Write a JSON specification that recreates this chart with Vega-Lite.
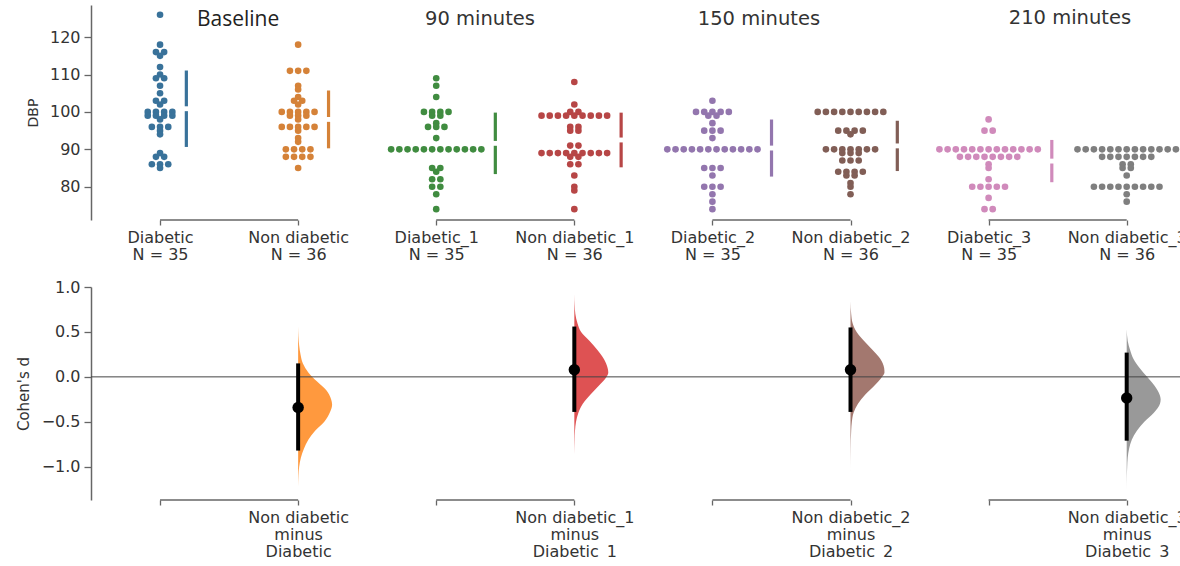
{
  "$schema": "https://vega.github.io/schema/vega-lite/v6.json",
  "padding": {"left": 16, "top": 5, "right": 0, "bottom": 0},
  "background": "white",
  "config": {"font": "DejaVu Sans", "view": {"stroke": null}, "axis": {"grid": false}},
  "bounds": "flush",
  "spacing": 67,
  "resolve": {"scale": {"color": "independent"}},
  "datasets": {
    "dbp": [
      {"group":"Diabetic","dbp":126},{"group":"Diabetic","dbp":118},{"group":"Diabetic","dbp":116},{"group":"Diabetic","dbp":116},{"group":"Diabetic","dbp":115},{"group":"Diabetic","dbp":112},{"group":"Diabetic","dbp":110},{"group":"Diabetic","dbp":109},{"group":"Diabetic","dbp":109},{"group":"Diabetic","dbp":107},{"group":"Diabetic","dbp":105},{"group":"Diabetic","dbp":103},{"group":"Diabetic","dbp":103},{"group":"Diabetic","dbp":102},{"group":"Diabetic","dbp":100},{"group":"Diabetic","dbp":100},{"group":"Diabetic","dbp":100},{"group":"Diabetic","dbp":100},{"group":"Diabetic","dbp":99},{"group":"Diabetic","dbp":99},{"group":"Diabetic","dbp":99},{"group":"Diabetic","dbp":99},{"group":"Diabetic","dbp":98},{"group":"Diabetic","dbp":96},{"group":"Diabetic","dbp":96},{"group":"Diabetic","dbp":96},{"group":"Diabetic","dbp":95},{"group":"Diabetic","dbp":94},{"group":"Diabetic","dbp":89},{"group":"Diabetic","dbp":88},{"group":"Diabetic","dbp":88},{"group":"Diabetic","dbp":86},{"group":"Diabetic","dbp":86},{"group":"Diabetic","dbp":86},{"group":"Diabetic","dbp":85},
      {"group":"Non diabetic","dbp":118},{"group":"Non diabetic","dbp":111},{"group":"Non diabetic","dbp":111},{"group":"Non diabetic","dbp":111},{"group":"Non diabetic","dbp":107},{"group":"Non diabetic","dbp":106},{"group":"Non diabetic","dbp":104},{"group":"Non diabetic","dbp":103},{"group":"Non diabetic","dbp":103},{"group":"Non diabetic","dbp":102},{"group":"Non diabetic","dbp":100},{"group":"Non diabetic","dbp":100},{"group":"Non diabetic","dbp":100},{"group":"Non diabetic","dbp":100},{"group":"Non diabetic","dbp":100},{"group":"Non diabetic","dbp":99},{"group":"Non diabetic","dbp":99},{"group":"Non diabetic","dbp":99},{"group":"Non diabetic","dbp":98},{"group":"Non diabetic","dbp":96},{"group":"Non diabetic","dbp":96},{"group":"Non diabetic","dbp":96},{"group":"Non diabetic","dbp":96},{"group":"Non diabetic","dbp":96},{"group":"Non diabetic","dbp":95},{"group":"Non diabetic","dbp":93},{"group":"Non diabetic","dbp":92},{"group":"Non diabetic","dbp":90},{"group":"Non diabetic","dbp":90},{"group":"Non diabetic","dbp":90},{"group":"Non diabetic","dbp":90},{"group":"Non diabetic","dbp":88},{"group":"Non diabetic","dbp":88},{"group":"Non diabetic","dbp":88},{"group":"Non diabetic","dbp":88},{"group":"Non diabetic","dbp":85},
      {"group":"Diabetic_1","dbp":109},{"group":"Diabetic_1","dbp":107},{"group":"Diabetic_1","dbp":104},{"group":"Diabetic_1","dbp":100},{"group":"Diabetic_1","dbp":100},{"group":"Diabetic_1","dbp":100},{"group":"Diabetic_1","dbp":100},{"group":"Diabetic_1","dbp":99},{"group":"Diabetic_1","dbp":99},{"group":"Diabetic_1","dbp":97},{"group":"Diabetic_1","dbp":96},{"group":"Diabetic_1","dbp":96},{"group":"Diabetic_1","dbp":96},{"group":"Diabetic_1","dbp":93},{"group":"Diabetic_1","dbp":90},{"group":"Diabetic_1","dbp":90},{"group":"Diabetic_1","dbp":90},{"group":"Diabetic_1","dbp":90},{"group":"Diabetic_1","dbp":90},{"group":"Diabetic_1","dbp":90},{"group":"Diabetic_1","dbp":90},{"group":"Diabetic_1","dbp":90},{"group":"Diabetic_1","dbp":90},{"group":"Diabetic_1","dbp":90},{"group":"Diabetic_1","dbp":90},{"group":"Diabetic_1","dbp":90},{"group":"Diabetic_1","dbp":85},{"group":"Diabetic_1","dbp":85},{"group":"Diabetic_1","dbp":84},{"group":"Diabetic_1","dbp":82},{"group":"Diabetic_1","dbp":82},{"group":"Diabetic_1","dbp":80},{"group":"Diabetic_1","dbp":80},{"group":"Diabetic_1","dbp":78},{"group":"Diabetic_1","dbp":74},
      {"group":"Non diabetic_1","dbp":108},{"group":"Non diabetic_1","dbp":102},{"group":"Non diabetic_1","dbp":100},{"group":"Non diabetic_1","dbp":100},{"group":"Non diabetic_1","dbp":99},{"group":"Non diabetic_1","dbp":99},{"group":"Non diabetic_1","dbp":99},{"group":"Non diabetic_1","dbp":99},{"group":"Non diabetic_1","dbp":99},{"group":"Non diabetic_1","dbp":99},{"group":"Non diabetic_1","dbp":99},{"group":"Non diabetic_1","dbp":99},{"group":"Non diabetic_1","dbp":99},{"group":"Non diabetic_1","dbp":96},{"group":"Non diabetic_1","dbp":96},{"group":"Non diabetic_1","dbp":95},{"group":"Non diabetic_1","dbp":95},{"group":"Non diabetic_1","dbp":91},{"group":"Non diabetic_1","dbp":91},{"group":"Non diabetic_1","dbp":89},{"group":"Non diabetic_1","dbp":89},{"group":"Non diabetic_1","dbp":89},{"group":"Non diabetic_1","dbp":89},{"group":"Non diabetic_1","dbp":89},{"group":"Non diabetic_1","dbp":89},{"group":"Non diabetic_1","dbp":89},{"group":"Non diabetic_1","dbp":89},{"group":"Non diabetic_1","dbp":89},{"group":"Non diabetic_1","dbp":88},{"group":"Non diabetic_1","dbp":88},{"group":"Non diabetic_1","dbp":86},{"group":"Non diabetic_1","dbp":86},{"group":"Non diabetic_1","dbp":83},{"group":"Non diabetic_1","dbp":80},{"group":"Non diabetic_1","dbp":79},{"group":"Non diabetic_1","dbp":74},
      {"group":"Diabetic_2","dbp":103},{"group":"Diabetic_2","dbp":100},{"group":"Diabetic_2","dbp":100},{"group":"Diabetic_2","dbp":100},{"group":"Diabetic_2","dbp":100},{"group":"Diabetic_2","dbp":100},{"group":"Diabetic_2","dbp":99},{"group":"Diabetic_2","dbp":99},{"group":"Diabetic_2","dbp":97},{"group":"Diabetic_2","dbp":95},{"group":"Diabetic_2","dbp":95},{"group":"Diabetic_2","dbp":95},{"group":"Diabetic_2","dbp":93},{"group":"Diabetic_2","dbp":90},{"group":"Diabetic_2","dbp":90},{"group":"Diabetic_2","dbp":90},{"group":"Diabetic_2","dbp":90},{"group":"Diabetic_2","dbp":90},{"group":"Diabetic_2","dbp":90},{"group":"Diabetic_2","dbp":90},{"group":"Diabetic_2","dbp":90},{"group":"Diabetic_2","dbp":90},{"group":"Diabetic_2","dbp":90},{"group":"Diabetic_2","dbp":90},{"group":"Diabetic_2","dbp":90},{"group":"Diabetic_2","dbp":85},{"group":"Diabetic_2","dbp":85},{"group":"Diabetic_2","dbp":85},{"group":"Diabetic_2","dbp":83},{"group":"Diabetic_2","dbp":80},{"group":"Diabetic_2","dbp":80},{"group":"Diabetic_2","dbp":80},{"group":"Diabetic_2","dbp":78},{"group":"Diabetic_2","dbp":76},{"group":"Diabetic_2","dbp":74},
      {"group":"Non diabetic_2","dbp":100},{"group":"Non diabetic_2","dbp":100},{"group":"Non diabetic_2","dbp":100},{"group":"Non diabetic_2","dbp":100},{"group":"Non diabetic_2","dbp":100},{"group":"Non diabetic_2","dbp":100},{"group":"Non diabetic_2","dbp":100},{"group":"Non diabetic_2","dbp":100},{"group":"Non diabetic_2","dbp":100},{"group":"Non diabetic_2","dbp":95},{"group":"Non diabetic_2","dbp":95},{"group":"Non diabetic_2","dbp":95},{"group":"Non diabetic_2","dbp":95},{"group":"Non diabetic_2","dbp":94},{"group":"Non diabetic_2","dbp":90},{"group":"Non diabetic_2","dbp":90},{"group":"Non diabetic_2","dbp":90},{"group":"Non diabetic_2","dbp":90},{"group":"Non diabetic_2","dbp":90},{"group":"Non diabetic_2","dbp":90},{"group":"Non diabetic_2","dbp":90},{"group":"Non diabetic_2","dbp":89},{"group":"Non diabetic_2","dbp":89},{"group":"Non diabetic_2","dbp":89},{"group":"Non diabetic_2","dbp":87},{"group":"Non diabetic_2","dbp":87},{"group":"Non diabetic_2","dbp":87},{"group":"Non diabetic_2","dbp":84},{"group":"Non diabetic_2","dbp":84},{"group":"Non diabetic_2","dbp":84},{"group":"Non diabetic_2","dbp":84},{"group":"Non diabetic_2","dbp":83},{"group":"Non diabetic_2","dbp":83},{"group":"Non diabetic_2","dbp":81},{"group":"Non diabetic_2","dbp":80},{"group":"Non diabetic_2","dbp":78},
      {"group":"Diabetic_3","dbp":98},{"group":"Diabetic_3","dbp":95},{"group":"Diabetic_3","dbp":95},{"group":"Diabetic_3","dbp":90},{"group":"Diabetic_3","dbp":90},{"group":"Diabetic_3","dbp":90},{"group":"Diabetic_3","dbp":90},{"group":"Diabetic_3","dbp":90},{"group":"Diabetic_3","dbp":90},{"group":"Diabetic_3","dbp":90},{"group":"Diabetic_3","dbp":90},{"group":"Diabetic_3","dbp":90},{"group":"Diabetic_3","dbp":90},{"group":"Diabetic_3","dbp":90},{"group":"Diabetic_3","dbp":90},{"group":"Diabetic_3","dbp":90},{"group":"Diabetic_3","dbp":88},{"group":"Diabetic_3","dbp":88},{"group":"Diabetic_3","dbp":88},{"group":"Diabetic_3","dbp":88},{"group":"Diabetic_3","dbp":88},{"group":"Diabetic_3","dbp":88},{"group":"Diabetic_3","dbp":88},{"group":"Diabetic_3","dbp":88},{"group":"Diabetic_3","dbp":86},{"group":"Diabetic_3","dbp":85},{"group":"Diabetic_3","dbp":82},{"group":"Diabetic_3","dbp":80},{"group":"Diabetic_3","dbp":80},{"group":"Diabetic_3","dbp":80},{"group":"Diabetic_3","dbp":80},{"group":"Diabetic_3","dbp":80},{"group":"Diabetic_3","dbp":77},{"group":"Diabetic_3","dbp":74},{"group":"Diabetic_3","dbp":74},
      {"group":"Non diabetic_3","dbp":90},{"group":"Non diabetic_3","dbp":90},{"group":"Non diabetic_3","dbp":90},{"group":"Non diabetic_3","dbp":90},{"group":"Non diabetic_3","dbp":90},{"group":"Non diabetic_3","dbp":90},{"group":"Non diabetic_3","dbp":90},{"group":"Non diabetic_3","dbp":90},{"group":"Non diabetic_3","dbp":90},{"group":"Non diabetic_3","dbp":90},{"group":"Non diabetic_3","dbp":90},{"group":"Non diabetic_3","dbp":90},{"group":"Non diabetic_3","dbp":90},{"group":"Non diabetic_3","dbp":88},{"group":"Non diabetic_3","dbp":88},{"group":"Non diabetic_3","dbp":88},{"group":"Non diabetic_3","dbp":88},{"group":"Non diabetic_3","dbp":88},{"group":"Non diabetic_3","dbp":88},{"group":"Non diabetic_3","dbp":88},{"group":"Non diabetic_3","dbp":86},{"group":"Non diabetic_3","dbp":86},{"group":"Non diabetic_3","dbp":85},{"group":"Non diabetic_3","dbp":85},{"group":"Non diabetic_3","dbp":83},{"group":"Non diabetic_3","dbp":80},{"group":"Non diabetic_3","dbp":80},{"group":"Non diabetic_3","dbp":80},{"group":"Non diabetic_3","dbp":80},{"group":"Non diabetic_3","dbp":80},{"group":"Non diabetic_3","dbp":80},{"group":"Non diabetic_3","dbp":80},{"group":"Non diabetic_3","dbp":80},{"group":"Non diabetic_3","dbp":80},{"group":"Non diabetic_3","dbp":78},{"group":"Non diabetic_3","dbp":76}
    ],
    "cmp": [
      {"control":"Diabetic","test":"Non diabetic","d":-0.34,"lo":-0.82,"hi":0.15},
      {"control":"Diabetic_1","test":"Non diabetic_1","d":0.08,"lo":-0.39,"hi":0.56},
      {"control":"Diabetic_2","test":"Non diabetic_2","d":0.08,"lo":-0.39,"hi":0.55},
      {"control":"Diabetic_3","test":"Non diabetic_3","d":-0.235,"lo":-0.71,"hi":0.27}
    ],
    "dens": [
      {"test":"Non diabetic","d":0.56,"w":0},{"test":"Non diabetic","d":0.45,"w":0.01},{"test":"Non diabetic","d":0.35,"w":0.03},{"test":"Non diabetic","d":0.25,"w":0.07},{"test":"Non diabetic","d":0.15,"w":0.14},{"test":"Non diabetic","d":0.05,"w":0.3},{"test":"Non diabetic","d":-0.05,"w":0.55},{"test":"Non diabetic","d":-0.15,"w":0.83},{"test":"Non diabetic","d":-0.25,"w":0.97},{"test":"Non diabetic","d":-0.31,"w":1.0},{"test":"Non diabetic","d":-0.4,"w":0.93},{"test":"Non diabetic","d":-0.5,"w":0.77},{"test":"Non diabetic","d":-0.6,"w":0.5},{"test":"Non diabetic","d":-0.7,"w":0.3},{"test":"Non diabetic","d":-0.8,"w":0.17},{"test":"Non diabetic","d":-0.9,"w":0.08},{"test":"Non diabetic","d":-1.0,"w":0.03},{"test":"Non diabetic","d":-1.1,"w":0.01},{"test":"Non diabetic","d":-1.22,"w":0},
      {"test":"Non diabetic_1","d":0.92,"w":0},{"test":"Non diabetic_1","d":0.8,"w":0.01},{"test":"Non diabetic_1","d":0.7,"w":0.03},{"test":"Non diabetic_1","d":0.6,"w":0.09},{"test":"Non diabetic_1","d":0.5,"w":0.2},{"test":"Non diabetic_1","d":0.4,"w":0.45},{"test":"Non diabetic_1","d":0.3,"w":0.68},{"test":"Non diabetic_1","d":0.2,"w":0.87},{"test":"Non diabetic_1","d":0.1,"w":0.98},{"test":"Non diabetic_1","d":0.05,"w":1.0},{"test":"Non diabetic_1","d":0.0,"w":0.95},{"test":"Non diabetic_1","d":-0.1,"w":0.72},{"test":"Non diabetic_1","d":-0.2,"w":0.47},{"test":"Non diabetic_1","d":-0.3,"w":0.25},{"test":"Non diabetic_1","d":-0.4,"w":0.12},{"test":"Non diabetic_1","d":-0.5,"w":0.05},{"test":"Non diabetic_1","d":-0.6,"w":0.02},{"test":"Non diabetic_1","d":-0.7,"w":0.01},{"test":"Non diabetic_1","d":-0.86,"w":0},
      {"test":"Non diabetic_2","d":0.84,"w":0},{"test":"Non diabetic_2","d":0.7,"w":0.02},{"test":"Non diabetic_2","d":0.6,"w":0.06},{"test":"Non diabetic_2","d":0.5,"w":0.18},{"test":"Non diabetic_2","d":0.4,"w":0.4},{"test":"Non diabetic_2","d":0.3,"w":0.65},{"test":"Non diabetic_2","d":0.2,"w":0.88},{"test":"Non diabetic_2","d":0.1,"w":0.99},{"test":"Non diabetic_2","d":0.05,"w":1.0},{"test":"Non diabetic_2","d":0.0,"w":0.93},{"test":"Non diabetic_2","d":-0.1,"w":0.7},{"test":"Non diabetic_2","d":-0.2,"w":0.43},{"test":"Non diabetic_2","d":-0.3,"w":0.22},{"test":"Non diabetic_2","d":-0.4,"w":0.09},{"test":"Non diabetic_2","d":-0.5,"w":0.04},{"test":"Non diabetic_2","d":-0.6,"w":0.02},{"test":"Non diabetic_2","d":-0.8,"w":0.005},{"test":"Non diabetic_2","d":-1.05,"w":0},
      {"test":"Non diabetic_3","d":0.53,"w":0},{"test":"Non diabetic_3","d":0.4,"w":0.03},{"test":"Non diabetic_3","d":0.3,"w":0.1},{"test":"Non diabetic_3","d":0.2,"w":0.2},{"test":"Non diabetic_3","d":0.1,"w":0.38},{"test":"Non diabetic_3","d":0.0,"w":0.6},{"test":"Non diabetic_3","d":-0.1,"w":0.82},{"test":"Non diabetic_3","d":-0.2,"w":0.97},{"test":"Non diabetic_3","d":-0.25,"w":1.0},{"test":"Non diabetic_3","d":-0.3,"w":0.98},{"test":"Non diabetic_3","d":-0.4,"w":0.8},{"test":"Non diabetic_3","d":-0.5,"w":0.52},{"test":"Non diabetic_3","d":-0.6,"w":0.3},{"test":"Non diabetic_3","d":-0.7,"w":0.15},{"test":"Non diabetic_3","d":-0.8,"w":0.07},{"test":"Non diabetic_3","d":-0.9,"w":0.03},{"test":"Non diabetic_3","d":-1.0,"w":0.015},{"test":"Non diabetic_3","d":-1.1,"w":0.005},{"test":"Non diabetic_3","d":-1.26,"w":0}
    ]
  },
  "vconcat": [
    {
      "width": 1089,
      "height": 215,
      "data": {"name": "dbp"},
      "transform": [
        {"calculate": "indexof(['Diabetic','Non diabetic','Diabetic_1','Non diabetic_1','Diabetic_2','Non diabetic_2','Diabetic_3','Non diabetic_3'], datum.group)", "as": "i"},
        {"window": [{"op": "row_number", "as": "r"}], "groupby": ["group", "dbp"]},
        {"joinaggregate": [{"op": "count", "as": "n"}], "groupby": ["group", "dbp"]},
        {"calculate": "(datum.r - (datum.n + 1) / 2) * 8.2", "as": "off"},
        {"calculate": "datum.i + datum.off / 138.09", "as": "px"},
        {"joinaggregate": [{"op": "max", "field": "off", "as": "maxoff"}], "groupby": ["group"]}
      ],
      "layer": [
        {
          "mark": {"type": "circle", "size": 44, "opacity": 1, "clip": true},
          "encoding": {
            "x": {
              "field": "px", "type": "quantitative", "title": null,
              "scale": {"domain": [-0.5, 7.386], "nice": false, "zero": false},
              "axis": {
                "values": [0, 1, 2, 3, 4, 5, 6, 7], "domain": false,
                "tickSize": 5, "tickColor": "#666", "tickWidth": 1.3,
                "labelFontSize": 16, "labelColor": "#333", "labelPadding": 4, "labelLineHeight": 17,
                "labelFlush": false, "labelOverlap": false, "labelAngle": 0,
                "labelExpr": "[['Diabetic','N = 35'],['Non diabetic','N = 36'],['Diabetic_1','N = 35'],['Non diabetic_1','N = 36'],['Diabetic_2','N = 35'],['Non diabetic_2','N = 36'],['Diabetic_3','N = 35'],['Non diabetic_3','N = 36']][datum.value]"
              }
            },
            "y": {
              "field": "dbp", "type": "quantitative", "title": "DBP",
              "scale": {"domain": [71.1, 128.6], "nice": false, "zero": false},
              "axis": {
                "values": [80, 90, 100, 110, 120], "titleFontSize": 14, "titleFontWeight": "normal",
                "titleColor": "#333", "titlePadding": 9, "labelFontSize": 16, "labelColor": "#333", "labelPadding": 4,
                "tickSize": 7, "tickColor": "#666", "tickWidth": 1.3, "domainColor": "#666", "domainWidth": 1.5
              }
            },
            "color": {
              "field": "group", "type": "nominal",
              "scale": {
                "domain": ["Diabetic", "Non diabetic", "Diabetic_1", "Non diabetic_1", "Diabetic_2", "Non diabetic_2", "Diabetic_3", "Non diabetic_3"],
                "range": ["#39729A", "#D58238", "#408C40", "#B74646", "#9376AE", "#815E56", "#D08ABB", "#7F7F7F"]
              },
              "legend": null
            }
          }
        },
        {
          "transform": [
            {"aggregate": [
              {"op": "mean", "field": "dbp", "as": "m"},
              {"op": "stdev", "field": "dbp", "as": "s"},
              {"op": "max", "field": "maxoff", "as": "mo"},
              {"op": "max", "field": "i", "as": "gi"}
            ], "groupby": ["group"]},
            {"calculate": "datum.gi + (datum.mo + 14) / 138.09", "as": "lx"},
            {"calculate": "datum.m - datum.s", "as": "lo"},
            {"calculate": "datum.m + datum.s", "as": "hi"},
            {"calculate": "datum.m - 0.65", "as": "g1"},
            {"calculate": "datum.m + 0.65", "as": "g2"}
          ],
          "layer": [
            {
              "mark": {"type": "rule", "strokeWidth": 3.2, "clip": true},
              "encoding": {
                "x": {"field": "lx", "type": "quantitative", "title": null},
                "y": {"field": "lo", "type": "quantitative", "title": "DBP"},
                "y2": {"field": "g1"},
                "color": {"field": "group", "type": "nominal", "legend": null}
              }
            },
            {
              "mark": {"type": "rule", "strokeWidth": 3.2, "clip": true},
              "encoding": {
                "x": {"field": "lx", "type": "quantitative", "title": null},
                "y": {"field": "g2", "type": "quantitative", "title": "DBP"},
                "y2": {"field": "hi"},
                "color": {"field": "group", "type": "nominal", "legend": null}
              }
            }
          ]
        },
        {
          "transform": [
            {"calculate": "floor(datum.i / 2)", "as": "pair"},
            {"aggregate": [{"op": "min", "field": "i", "as": "a"}, {"op": "max", "field": "i", "as": "b"}], "groupby": ["pair"]}
          ],
          "mark": {"type": "rule", "color": "#666", "strokeWidth": 1.3},
          "encoding": {
            "x": {"field": "a", "type": "quantitative", "title": null},
            "x2": {"field": "b"},
            "y": {"datum": 71.1, "type": "quantitative", "title": "DBP"}
          }
        },
        {
          "data": {"values": [{"t": "Baseline"}]},
          "mark": {"type": "text", "font": "Open Sans", "fontSize": 21, "color": "#222", "baseline": "middle", "align": "center"},
          "encoding": {
            "text": {"field": "t"},
            "x": {"datum": 0.565, "type": "quantitative", "title": null},
            "y": {"datum": 124.6, "type": "quantitative", "title": "DBP"}
          }
        },
        {
          "data": {"values": [{"t": "90 minutes"}]},
          "mark": {"type": "text", "fontSize": 19.5, "color": "#333", "baseline": "middle", "align": "center"},
          "encoding": {
            "text": {"field": "t"},
            "x": {"datum": 2.317, "type": "quantitative", "title": null},
            "y": {"datum": 124.8, "type": "quantitative", "title": "DBP"}
          }
        },
        {
          "data": {"values": [{"t": "150 minutes"}]},
          "mark": {"type": "text", "fontSize": 19.5, "color": "#333", "baseline": "middle", "align": "center"},
          "encoding": {
            "text": {"field": "t"},
            "x": {"datum": 4.337, "type": "quantitative", "title": null},
            "y": {"datum": 124.8, "type": "quantitative", "title": "DBP"}
          }
        },
        {
          "data": {"values": [{"t": "210 minutes"}]},
          "mark": {"type": "text", "fontSize": 19.5, "color": "#333", "baseline": "middle", "align": "center"},
          "encoding": {
            "text": {"field": "t"},
            "x": {"datum": 6.589, "type": "quantitative", "title": null},
            "y": {"datum": 125.2, "type": "quantitative", "title": "DBP"}
          }
        }
      ]
    },
    {
      "width": 1089,
      "height": 213,
      "layer": [
        {
          "data": {"name": "dens"},
          "transform": [
            {"calculate": "indexof(['Diabetic','Non diabetic','Diabetic_1','Non diabetic_1','Diabetic_2','Non diabetic_2','Diabetic_3','Non diabetic_3'], datum.test)", "as": "i"},
            {"calculate": "datum.i + datum.w * 0.246", "as": "xv"}
          ],
          "mark": {"type": "area", "orient": "horizontal", "interpolate": "monotone", "fillOpacity": 0.8, "clip": true},
          "encoding": {
            "y": {
              "field": "d", "type": "quantitative", "title": "Cohen's d",
              "scale": {"domain": [-1.37, 1.0], "nice": false, "zero": false},
              "axis": {
                "values": [-1, -0.5, 0, 0.5, 1], "format": ".1f", "titleFontSize": 15, "titleFontWeight": "normal",
                "titleColor": "#333", "titlePadding": 10, "labelFontSize": 16, "labelColor": "#333", "labelPadding": 4,
                "tickSize": 7, "tickColor": "#666", "tickWidth": 1.3, "domainColor": "#666", "domainWidth": 1.5
              }
            },
            "x": {
              "field": "xv", "type": "quantitative", "stack": null, "title": null,
              "scale": {"domain": [-0.5, 7.386], "nice": false, "zero": false},
              "axis": {
                "values": [0, 1, 2, 3, 4, 5, 6, 7], "domain": false,
                "tickSize": 5, "tickColor": "#666", "tickWidth": 1.3,
                "labelFontSize": 16, "labelColor": "#333", "labelPadding": 4, "labelLineHeight": 17,
                "labelFlush": false, "labelOverlap": false, "labelAngle": 0,
                "labelExpr": "datum.value % 2 == 1 ? [['Non diabetic','minus','Diabetic'],['Non diabetic_1','minus','Diabetic_1'],['Non diabetic_2','minus','Diabetic_2'],['Non diabetic_3','minus','Diabetic_3']][floor(datum.value / 2)] : ''"
              }
            },
            "x2": {"field": "i"},
            "color": {
              "field": "test", "type": "nominal",
              "scale": {"domain": ["Non diabetic", "Non diabetic_1", "Non diabetic_2", "Non diabetic_3"], "range": ["#ff7f0e", "#d62728", "#8c564b", "#7f7f7f"]},
              "legend": null
            }
          }
        },
        {
          "data": {"values": [{}]},
          "mark": {"type": "rule", "color": "#444", "strokeWidth": 1},
          "encoding": {"y": {"datum": 0, "type": "quantitative", "title": "Cohen's d"}}
        },
        {
          "data": {"name": "cmp"},
          "transform": [
            {"calculate": "indexof(['Diabetic','Non diabetic','Diabetic_1','Non diabetic_1','Diabetic_2','Non diabetic_2','Diabetic_3','Non diabetic_3'], datum.test)", "as": "ti"},
            {"calculate": "indexof(['Diabetic','Non diabetic','Diabetic_1','Non diabetic_1','Diabetic_2','Non diabetic_2','Diabetic_3','Non diabetic_3'], datum.control)", "as": "ci"}
          ],
          "layer": [
            {
              "mark": {"type": "rule", "color": "#666", "strokeWidth": 1.3},
              "encoding": {
                "x": {"field": "ci", "type": "quantitative", "title": null},
                "x2": {"field": "ti"},
                "y": {"datum": -1.37, "type": "quantitative", "title": "Cohen's d"}
              }
            },
            {
              "mark": {"type": "rule", "color": "black", "strokeWidth": 4},
              "encoding": {
                "x": {"field": "ti", "type": "quantitative", "title": null},
                "y": {"field": "lo", "type": "quantitative", "title": "Cohen's d"},
                "y2": {"field": "hi"}
              }
            },
            {
              "mark": {"type": "point", "filled": true, "size": 130, "color": "black", "opacity": 1},
              "encoding": {
                "x": {"field": "ti", "type": "quantitative", "title": null},
                "y": {"field": "d", "type": "quantitative", "title": "Cohen's d"}
              }
            }
          ]
        }
      ]
    }
  ]
}
